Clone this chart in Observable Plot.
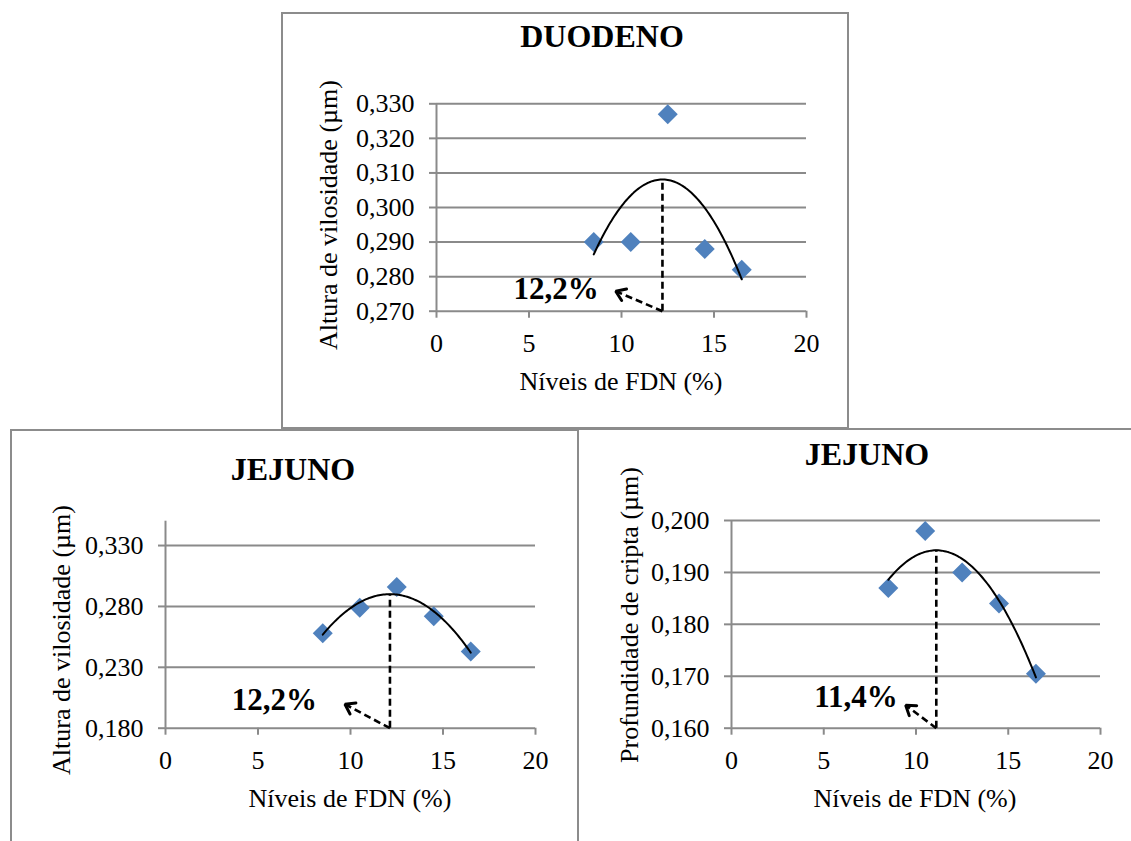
<!DOCTYPE html>
<html><head><meta charset="utf-8">
<script src="https://cdn.jsdelivr.net/npm/d3@7"></script>
<script src="https://cdn.jsdelivr.net/npm/@observablehq/plot@0.6"></script>
<style>
html,body{margin:0;padding:0;background:#fff;}
#page{position:relative;width:1131px;height:841px;overflow:hidden;background:#fff;}
.frame{position:absolute;border:2px solid #8c8c8c;box-sizing:border-box;pointer-events:none;background:transparent;}
.panel{position:absolute;}
.panel svg{display:block;overflow:visible;max-width:none;}
</style></head><body><div id="page"></div>
<script>
// ---------- data ----------
const fdnLevels = [8.5, 10.5, 12.5, 14.5, 16.5];
const duodenoVillusHeight = [0.290, 0.290, 0.327, 0.288, 0.282];
const jejunoVillusHeight = [0.258, 0.279, 0.296, 0.272, 0.243];
const jejunoCryptDepth = [0.187, 0.198, 0.190, 0.184, 0.1705];
const xTickValues = [0, 5, 10, 15, 20];
const duodenoYTicks = [0.270, 0.280, 0.290, 0.300, 0.310, 0.320, 0.330];
const jejunoVillusYTicks = [0.180, 0.230, 0.280, 0.330];
const jejunoCryptYTicks = [0.160, 0.170, 0.180, 0.190, 0.200];
const duodenoYDomain = [0.27, 0.33];
const jejunoVillusYDomain = [0.18, 0.35];
const jejunoCryptYDomain = [0.16, 0.20];
const panelTitles = ["DUODENO", "JEJUNO", "JEJUNO"];
const yAxisTitles = ["Altura de vilosidade (µm)", "Altura de vilosidade (µm)", "Profundidade de cripta (µm)"];
const xAxisTitle = "Níveis de FDN (%)";
const optimumLabels = ["12,2%", "12,2%", "11,4%"];

// ---------- layout ----------
const GRID = "#8a8a8a";
const FONT = "'Liberation Serif', 'Times New Roman', Times, serif";
const DASH = "7,4";
const layouts = [
  {left:281, top:12, width:568, height:416, mL:155, mR:43, mT:91.3, mB:117.3,
   title:[321,34.7], xTitle:[340,378], yTitle:[56,203],
   arrow:{dx:-46.7, dy:-20}, label:{dx:-17, dy:-2},
   frame:{left:281, top:12, width:568, height:417}},
  {left:10, top:430, width:568, height:411, mL:155, mR:43, mT:90.7, mB:113.3,
   title:[283,50], xTitle:[340,377], yTitle:[60,210],
   arrow:{dx:-45, dy:-24}, label:{dx:-28, dy:-4},
   frame:{left:10, top:429, width:569, height:420}},
  {left:578, top:428, width:553, height:413, mL:153, mR:31, mT:92, mB:113.3,
   title:[289,37], xTitle:[337,379], yTitle:[60,187],
   arrow:{dx:-30.6, dy:-23}, label:{dx:-8, dy:-8},
   frame:{left:577, top:428, width:570, height:420}}
];

const panels = [
  {title: panelTitles[0], yTitle: yAxisTitles[0], label: optimumLabels[0], y: duodenoVillusHeight, yDomain: duodenoYDomain, yTicks: duodenoYTicks, layout: layouts[0]},
  {title: panelTitles[1], yTitle: yAxisTitles[1], label: optimumLabels[1], y: jejunoVillusHeight, yDomain: jejunoVillusYDomain, yTicks: jejunoVillusYTicks, layout: layouts[1]},
  {title: panelTitles[2], yTitle: yAxisTitles[2], label: optimumLabels[2], y: jejunoCryptDepth, yDomain: jejunoCryptYDomain, yTicks: jejunoCryptYTicks, layout: layouts[2]}
];

const fmtY = d => d.toFixed(3).replace(".", ",");

// least-squares quadratic trendline (as in the spreadsheet's polynomial trendline)
function quadFit(xs, ys) {
  const mx = d3.mean(xs);
  const S = [0,0,0,0,0], T = [0,0,0];
  xs.forEach((x, i) => {
    const u = x - mx; let p = 1;
    for (let k = 0; k < 5; k++) { S[k] += p; if (k < 3) T[k] += p * ys[i]; p *= u; }
  });
  const M = [[S[0],S[1],S[2],T[0]],[S[1],S[2],S[3],T[1]],[S[2],S[3],S[4],T[2]]];
  for (let c = 0; c < 3; c++) {
    let piv = c;
    for (let r = c + 1; r < 3; r++) if (Math.abs(M[r][c]) > Math.abs(M[piv][c])) piv = r;
    [M[c], M[piv]] = [M[piv], M[c]];
    for (let r = 0; r < 3; r++) {
      if (r === c) continue;
      const f = M[r][c] / M[c][c];
      for (let k = c; k < 4; k++) M[r][k] -= f * M[c][k];
    }
  }
  const c0 = M[0][3]/M[0][0], c1 = M[1][3]/M[1][1], c2 = M[2][3]/M[2][2];
  const f = x => { const u = x - mx; return c0 + c1*u + c2*u*u; };
  return {f, vertex: mx - c1/(2*c2)};
}

const page = document.getElementById("page");

panels.forEach(p => {
  const L = p.layout;
  const data = fdnLevels.map((x, i) => ({x, y: p.y[i]}));
  const fit = quadFit(fdnLevels, p.y);
  const [x0, x1] = d3.extent(fdnLevels);
  const curve = d3.range(0, 101).map(i => { const x = x0 + (x1 - x0) * i / 100; return {x, y: fit.f(x)}; });
  const [ymin, ymax] = p.yDomain;
  const plotW = L.width - L.mL - L.mR, plotH = L.height - L.mT - L.mB;
  const kx = plotW / 20, ky = plotH / (ymax - ymin);
  const toData = (px, py) => ({x: px / kx, y: ymin - py / ky});
  const vx = fit.vertex, vy = fit.f(vx);
  const tailPx = [vx * kx, 0];
  const tipPx = [tailPx[0] + L.arrow.dx, L.arrow.dy];
  const len = Math.hypot(L.arrow.dx, L.arrow.dy);
  const ux = L.arrow.dx / len, uy = L.arrow.dy / len;
  const wing = ang => {
    const c = Math.cos(ang), s = Math.sin(ang);
    const rx = ux*c - uy*s, ry = ux*s + uy*c;
    return toData(tipPx[0] - 11*rx, tipPx[1] - 11*ry);
  };
  const tail = toData(tailPx[0], tailPx[1]);
  const tip = toData(tipPx[0], tipPx[1]);
  const head = [wing(0.6), tip, wing(-0.6)];

  const svg = Plot.plot({
    width: L.width, height: L.height,
    marginLeft: L.mL, marginRight: L.mR, marginTop: L.mT, marginBottom: L.mB,
    style: {background: "transparent", fontFamily: FONT, fontSize: "26px", color: "black", overflow: "visible", maxWidth: "none"},
    x: {domain: [0, 20], label: null},
    y: {domain: p.yDomain, label: null},
    marks: [
      Plot.gridY(p.yTicks, {stroke: GRID, strokeOpacity: 1, strokeWidth: 2}),
      Plot.ruleX([0], {stroke: GRID, strokeWidth: 2}),
      Plot.axisY(p.yTicks, {tickSize: 7, tickPadding: 15, stroke: GRID, strokeWidth: 2, fill: "black", tickFormat: fmtY, fontSize: 26, fontFamily: FONT, label: null}),
      Plot.axisX(xTickValues, {tickSize: 7, tickPadding: 15.5, stroke: GRID, strokeWidth: 2, fill: "black", tickFormat: d => String(d), fontSize: 26, fontFamily: FONT, label: null}),
      Plot.dot(data, {x: "x", y: "y", symbol: "diamond2", r: 9, fill: "#4f81bd", stroke: null}),
      Plot.line(curve, {x: "x", y: "y", stroke: "black", strokeWidth: 2}),
      Plot.ruleX([vx], {y1: () => ymin, y2: () => vy, stroke: "black", strokeWidth: 2.6, strokeDasharray: DASH}),
      Plot.link([{tail, tip}], {x1: d => d.tail.x, y1: d => d.tail.y, x2: d => d.tip.x, y2: d => d.tip.y, stroke: "black", strokeWidth: 2.6, strokeDasharray: DASH}),
      Plot.line(head, {x: "x", y: "y", stroke: "black", strokeWidth: 3, strokeLinejoin: "miter"}),
      Plot.text([p.label], {x: () => tip.x, y: () => tip.y, text: d => d, dx: L.label.dx, dy: L.label.dy, textAnchor: "end", fontWeight: "bold", fontSize: 31, fontFamily: FONT, fill: "black"})
    ]
  });

  const s = d3.select(svg);
  s.append("text").attr("x", L.title[0]).attr("y", L.title[1])
    .attr("text-anchor", "middle").attr("font-family", FONT).attr("font-size", 32).attr("font-weight", "bold").attr("fill", "black")
    .text(p.title);
  s.append("text").attr("x", L.xTitle[0]).attr("y", L.xTitle[1])
    .attr("text-anchor", "middle").attr("font-family", FONT).attr("font-size", 26).attr("fill", "black")
    .text(xAxisTitle);
  s.append("text").attr("transform", `translate(${L.yTitle[0]},${L.yTitle[1]}) rotate(-90)`)
    .attr("text-anchor", "middle").attr("font-family", FONT).attr("font-size", 26).attr("fill", "black")
    .text(p.yTitle);

  const div = document.createElement("div");
  div.className = "panel";
  Object.assign(div.style, {left: L.left + "px", top: L.top + "px", width: L.width + "px", height: L.height + "px"});
  div.appendChild(svg);
  page.appendChild(div);
});

layouts.forEach(L => {
  const f = document.createElement("div");
  f.className = "frame";
  Object.assign(f.style, {left: L.frame.left + "px", top: L.frame.top + "px", width: L.frame.width + "px", height: L.frame.height + "px"});
  page.appendChild(f);
});
</script>
</body></html>
